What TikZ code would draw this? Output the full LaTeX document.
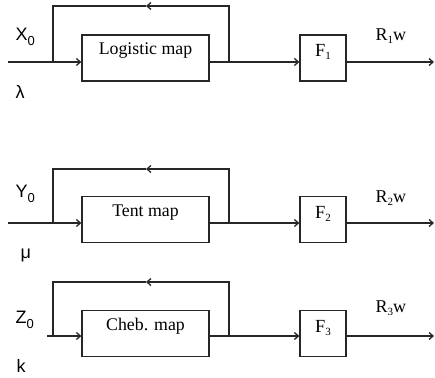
\documentclass[tikz,border=0pt]{standalone}
\usepackage{fontspec}
\setmainfont{Liberation Serif}
\newfontfamily\symfont{Liberation Sans}
\usetikzlibrary{arrows.meta,positioning}
\tikzset{map node/.style={rectangle,draw,inner sep=0pt,minimum width=127pt,text height=20pt,text depth=26pt,font=\fontsize{17.8}{18}\selectfont},
         f node/.style={rectangle,draw,inner sep=0pt,minimum width=46pt,text height=22pt,text depth=24pt,font=\fontsize{18.5}{19}\selectfont},
         in label/.style={anchor=base west,inner sep=0pt,font=\symfont\fontsize{18}{18}\selectfont},
         out label/.style={anchor=base west,inner sep=0pt,font=\fontsize{18}{18}\selectfont},
}
\newcommand{\lowsub}[1]{\raisebox{-5pt}{\fontsize{13}{13}\selectfont #1}}
\newcommand{\fsub}[1]{\raisebox{-3pt}{\fontsize{11}{11}\selectfont #1}}

\begin{document}
\begin{tikzpicture}[x=1pt,y=-1pt,line width=1.3pt,draw=black!85,
>={Straight Barb[length=4pt,width=7pt]}]
\useasboundingbox (0,0) rectangle (435,377);

% first row
\node[map node] (m1) at (145.5,58) {Logistic map};
\node[f node] (f1) at (323,58) {F\fsub{1}};
\coordinate (in1) at (8,62);
\coordinate (out1) at (434,62);
\coordinate (jl1) at (53,62);
\coordinate (jr1) at (229,62);
\coordinate (tl1) at (53,6);
\coordinate (tr1) at (229,6);
\coordinate (tm1) at (146,6);
\draw[->] (in1) -- (in1 -| m1.west);
\draw[->] (in1 -| m1.east) -- (in1 -| f1.west);
\draw[->] (in1 -| f1.east) -- (out1);
\draw[->] (jr1) -- (tr1) -- (tm1);
\draw (tm1) -- (tl1) -- (jl1);
\node[in label] (x0) at (15,41) {X\lowsub{0}};
\node[in label] (lam) at (15,98) {λ};
\node[out label] (r1) at (375,41) {R\fsub{1}w};

% second row
\node[map node] (m2) at (145.5,219.5) {Tent map};
\node[f node] (f2) at (323,219.5) {F\fsub{2}};
\coordinate (in2) at (8,223);
\coordinate (out2) at (434,223);
\coordinate (jl2) at (53,223);
\coordinate (jr2) at (229,223);
\coordinate (tl2) at (53,169);
\coordinate (tr2) at (229,169);
\coordinate (tm2) at (146,169);
\draw[->] (in2) -- (in2 -| m2.west);
\draw[->] (in2 -| m2.east) -- (in2 -| f2.west);
\draw[->] (in2 -| f2.east) -- (out2);
\draw[->] (jr2) -- (tr2) -- (tm2);
\draw (tm2) -- (tl2) -- (jl2);
\node[in label] (y0) at (15,197) {Y\lowsub{0}};
\node[in label] (mu) at (20,258) {μ};
\node[out label] (r2) at (375,202) {R\fsub{2}w};

% third row
\node[map node] (m3) at (145.5,333.5) {Cheb. map};
\node[f node] (f3) at (323,333.5) {F\fsub{3}};
\coordinate (in3) at (47,336);
\coordinate (out3) at (434,336);
\coordinate (jl3) at (53,336);
\coordinate (jr3) at (229,336);
\coordinate (tl3) at (53,282);
\coordinate (tr3) at (229,282);
\coordinate (tm3) at (146,282);
\draw[->] (in3) -- (in3 -| m3.west);
\draw[->] (in3 -| m3.east) -- (in3 -| f3.west);
\draw[->] (in3 -| f3.east) -- (out3);
\draw[->] (jr3) -- (tr3) -- (tm3);
\draw (tm3) -- (tl3) -- (jl3);
\node[in label] (z0) at (15,323) {Z\lowsub{0}};
\node[in label] (kk) at (16,372) {k};
\node[out label] (r3) at (375,312) {R\fsub{3}w};
\end{tikzpicture}
\end{document}
